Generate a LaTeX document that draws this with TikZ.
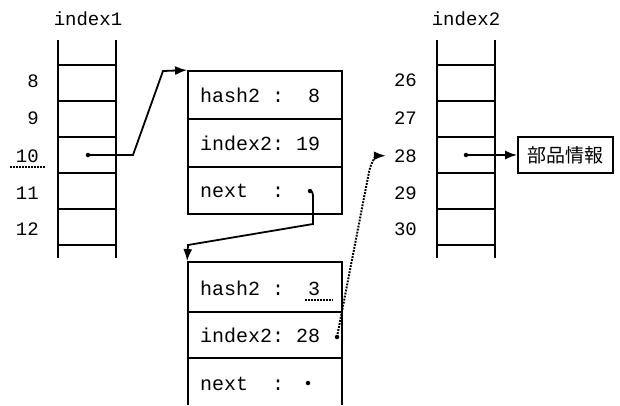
\documentclass[tikz,border=0pt]{standalone}
\usepackage{fontspec}
\setmonofont{Liberation Mono}
\newfontfamily\cjk{Noto Sans CJK JP}
\usetikzlibrary{arrows.meta}
\begin{document}
\begin{tikzpicture}[x=1pt,y=-1pt,
  ln/.style={line width=1.8pt},
  lbl/.style={font=\fontsize{19}{19}\selectfont\ttfamily, inner sep=0pt, anchor=base east},
  ttl/.style={font=\fontsize{19}{19}\selectfont\ttfamily, inner sep=0pt, anchor=base},
  btxt/.style={font=\fontsize{20}{20}\selectfont\ttfamily, inner sep=0pt, anchor=base west},
  rowbox/.style={draw, line width=1.8pt, minimum width=154pt, inner sep=0pt},
  ptr/.style={line width=1.8pt, -{Latex[length=12pt,width=9pt]}},
  dptr/.style={line width=2pt, dash pattern=on 1.8pt off 1.3pt, -{Latex[length=12pt,width=9pt]}},
  uline/.style={line width=1.5pt, dash pattern=on 1.5pt off 1.5pt},
  dot/.style={circle, fill, inner sep=0pt, minimum size=4.5pt},
  ]
\useasboundingbox (0,0) rectangle (620,405);

% ---- index1 column ----
\node[ttl] (t1) at (88,25) {index1};
\draw[ln] (58,40) -- (58,258) (116,40) -- (116,258);
\foreach \y in {65,101,137,173,209,245} \draw[ln] (58,\y) -- (116,\y);
\node[lbl] (l8)  at (39,87)  {8};
\node[lbl] (l9)  at (39,124) {9};
\node[lbl] (l10) at (39,162) {10};
\node[lbl] (l11) at (39,199) {11};
\node[lbl] (l12) at (39,235) {12};
\draw[uline] (10,167) -- (45,167);

% ---- index2 column ----
\node[ttl] (t2) at (466,25) {index2};
\draw[ln] (437,40) -- (437,258) (495,40) -- (495,258);
\foreach \y in {65,101,137,173,209,245} \draw[ln] (437,\y) -- (495,\y);
\node[lbl] (l26) at (417,86)  {26};
\node[lbl] (l27) at (417,124) {27};
\node[lbl] (l28) at (417,162) {28};
\node[lbl] (l29) at (417,199) {29};
\node[lbl] (l30) at (417,235) {30};

% ---- record 1 ----
\node[rowbox, minimum height=48pt] (b1a) at (265,95) {};
\node[rowbox, minimum height=48pt] (b1b) at (265,143) {};
\node[rowbox, minimum height=47pt] (b1c) at (265,190.5) {};
\node[btxt] (h1) at (200,102) {hash2 :\ \ 8};
\node[btxt] (i1) at (200,150) {index2: 19};
\node[btxt] (n1t) at (200,197) {next\ \ :};
\node[dot] (n1) at (310,191) {};

% ---- record 2 ----
\node[rowbox, minimum height=50pt] (b2a) at (265,287) {};
\node[rowbox, minimum height=46pt] (b2b) at (265,335) {};
\draw[ln] (188,358) -- (188,405) (342,358) -- (342,405);
\node[btxt] (h2) at (200,295) {hash2 :\ \ 3};
\node[btxt] (i2) at (200,342) {index2: 28};
\node[btxt] (n2t) at (200,390) {next\ \ :};
\node[dot] (n2) at (308,383) {};
\draw[uline] (305,300) -- (333,300);
\node[dot] (d28) at (337,337) {};

% ---- parts info ----
\node[draw, ln, minimum width=95pt, minimum height=36pt, inner sep=0pt,
      font=\cjk\fontsize{19}{19}\selectfont] (info) at (565.5,155) {部品情報};

% ---- pointers ----
\node[dot] (p1) at (88,155) {};
\coordinate (k1) at (133,155);
\coordinate (k2) at (163,71);
\draw[ptr] (p1.center) -- (k1) -- (k2) -- (b1a.north west);

\coordinate (c1) at (313,224);
\coordinate (c2) at (188,245);
\draw[ptr] (n1.center) to[out=0,in=90] (313,199) -- (c1) -- (c2) -- (b2a.north west);

\coordinate (c3) at (369,172);
\draw[dptr] (d28.center) -- (c3) to[out=80,in=180] ([xshift=-8pt]l28.west);

\node[dot] (p2) at (466,155) {};
\draw[ptr] (p2.center) -- (info.west);
\end{tikzpicture}
\end{document}
